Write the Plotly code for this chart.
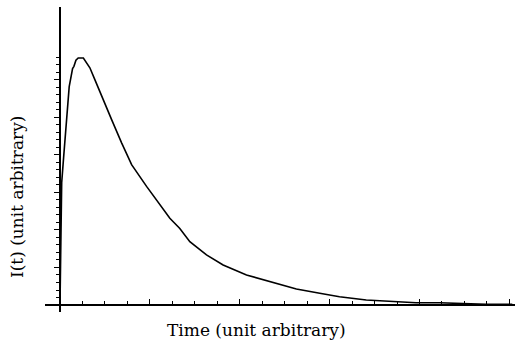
import plotly.graph_objects as go

# Data (arbitrary units)
time_vals = [0.0, 0.02, 0.076, 0.16, 0.22, 0.29, 0.41, 0.56, 0.62, 0.71, 0.81, 1.04, 1.19, 1.33,
             1.556, 1.924, 2.298, 2.742, 3.187, 3.853, 4.444, 4.889, 5.333, 5.778, 6.52, 7.26,
             8.30, 9.33, 10.52, 11.56, 12.44, 13.63, 14.8, 15.85, 16.9, 18.07, 18.96, 20.13]
intensity = [0.0, 5.3, 16.3, 19.6, 22.0, 24.7, 29.1, 31.5, 31.8, 32.6, 32.9, 32.9, 32.2, 31.6,
             30.0, 27.3, 24.7, 21.6, 18.7, 15.8, 13.3, 11.56, 10.2, 8.44, 6.67, 5.33,
             4.0, 3.1, 2.13, 1.56, 1.1, 0.67, 0.44, 0.31, 0.31, 0.13, 0.09, 0.09]

y_major_ticks = [0, 5, 10, 15, 20, 25, 30]
y_minor_ticks = list(range(0, 34))

x_title = "Time (unit arbitrary)"
y_title = "I(t) (unit arbitrary)"

x_range = [-0.667, 20.25]
y_range = [-0.93, 39.7]

W, H = 515, 349
ml, mr, mt, mb = 45, 0, 7, 37
pw, ph = W - ml - mr, H - mt - mb

fig = go.Figure()
fig.add_trace(go.Scatter(x=time_vals, y=intensity, mode="lines",
                         line=dict(color="black", width=1.6), showlegend=False,
                         hoverinfo="skip"))

font_family = "DejaVu Serif"
font_size = 17

fig.update_layout(
    width=W, height=H,
    margin=dict(l=ml, r=mr, t=mt, b=mb, pad=0),
    paper_bgcolor="white", plot_bgcolor="white",
    xaxis=dict(range=x_range, anchor="free",
               position=(0 - y_range[0]) / (y_range[1] - y_range[0]),
               showgrid=False, zeroline=False, showline=True, linecolor="black", linewidth=1.5,
               showticklabels=False, ticks="inside", tick0=0, dtick=4, ticklen=5,
               tickcolor="black", tickwidth=1.2,
               minor=dict(ticks="inside", dtick=1, tick0=0, ticklen=3, tickcolor="black",
                          tickwidth=1, showgrid=False)),
    yaxis=dict(range=y_range, anchor="free",
               position=(0 - x_range[0]) / (x_range[1] - x_range[0]),
               showgrid=False, zeroline=False, showline=True, linecolor="black", linewidth=1.5,
               showticklabels=False, ticks="outside", tickmode="array",
               tickvals=y_major_ticks, ticklen=5, tickcolor="black", tickwidth=1.2,
               minor=dict(ticks="outside", tickmode="array", tickvals=y_minor_ticks,
                          ticklen=3, tickcolor="black", tickwidth=1, showgrid=False)),
    annotations=[
        dict(text=x_title, xref="paper", yref="paper",
             x=(256 - ml) / pw, y=(ph + mt - 330) / ph, xanchor="center", yanchor="middle",
             showarrow=False, font=dict(family=font_family, size=font_size, color="black")),
        dict(text=y_title, xref="paper", yref="paper", textangle=-90,
             x=(17 - ml) / pw, y=(ph + mt - 197) / ph, xanchor="center", yanchor="middle",
             showarrow=False, font=dict(family=font_family, size=font_size, color="black")),
    ],
)

fig.write_html("out.html")
